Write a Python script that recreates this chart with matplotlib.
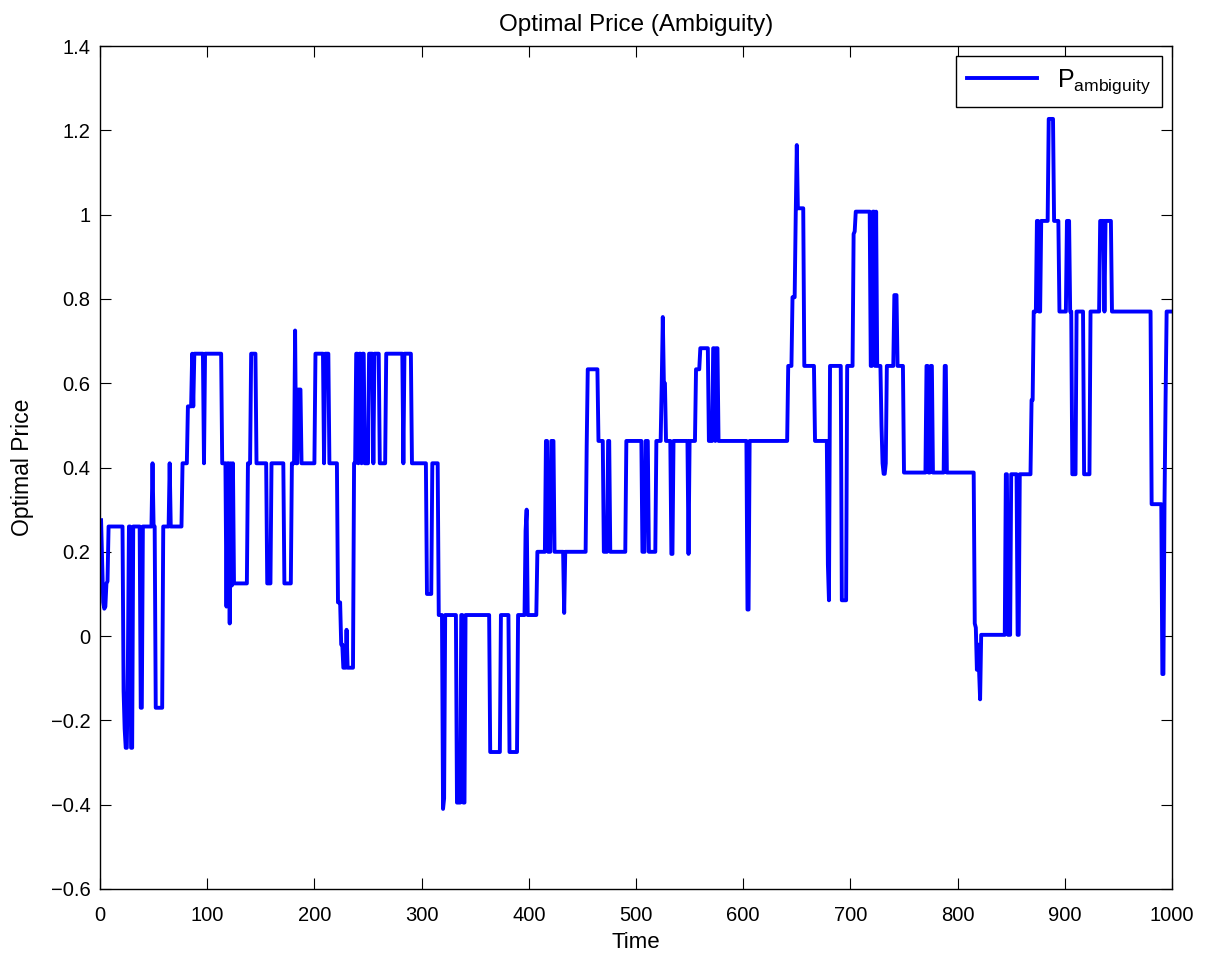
import numpy as np
import matplotlib
matplotlib.use('Agg')
import matplotlib.pyplot as plt

plt.rcParams['font.family'] = ['Liberation Sans', 'DejaVu Sans']
plt.rcParams['mathtext.fontset'] = 'custom'
plt.rcParams['mathtext.rm'] = 'Liberation Sans'

# step levels of the price path: time where each level starts, and its value
seg_start = [1, 2, 3, 4, 5, 6, 7, 8,
             22, 23, 24, 26, 27, 29, 31,
             38, 40, 49, 50, 52, 59, 65, 66,
             77, 82, 86, 87, 88, 97, 98, 114,
             118, 119, 121, 122, 123, 124, 125,
             138, 141, 146, 156, 160, 172, 179,
             182, 183, 185, 188, 201, 209, 210,
             214, 222, 225, 227, 230, 231, 237,
             239, 241, 242, 244, 245, 247, 251,
             255, 256, 261, 267, 283, 284, 291,
             305, 310, 316, 320, 321, 322, 333,
             337, 339, 341, 364, 374, 382, 390,
             397, 398, 399, 408, 416, 418, 421,
             424, 433, 434, 454, 455, 465,
             470, 474, 476, 491, 506, 509, 512,
             519, 524, 525, 526, 528, 533, 535,
             549, 550, 556, 560, 568, 572, 574,
             575, 577, 604, 606, 642, 646, 649,
             650, 651, 657, 667, 679, 680, 681,
             692, 697, 703, 704, 705, 719, 721,
             723, 724, 725, 729, 730, 731, 733,
             734, 741, 744, 750, 771, 773, 775,
             777, 788, 790, 816, 817, 818, 819,
             820, 821, 822, 845, 847, 850, 856,
             858, 869, 871, 874, 876, 878, 885,
             890, 895, 902, 905, 907, 911, 918,
             924, 933, 937, 938, 944, 981, 991,
             993, 994, 995]
seg_level = [0.275, 0.18, 0.08, 0.065, 0.07, 0.125, 0.13, 0.26,
             -0.13, -0.22, -0.265, -0.07, 0.26, -0.265, 0.26,
             -0.17, 0.26, 0.41, 0.26, -0.17, 0.26, 0.41, 0.26,
             0.41, 0.545, 0.67, 0.545, 0.67, 0.41, 0.67, 0.41,
             0.07, 0.41, 0.03, 0.41, 0.12, 0.41, 0.125,
             0.41, 0.67, 0.41, 0.125, 0.41, 0.125, 0.41,
             0.725, 0.41, 0.585, 0.41, 0.67, 0.41, 0.67,
             0.41, 0.08, -0.02, -0.075, 0.015, -0.075, 0.41,
             0.67, 0.41, 0.67, 0.41, 0.67, 0.41, 0.67,
             0.41, 0.67, 0.41, 0.67, 0.41, 0.67, 0.41,
             0.1, 0.41, 0.05, -0.41, -0.385, 0.05, -0.395,
             0.05, -0.395, 0.05, -0.275, 0.05, -0.275, 0.05,
             0.25, 0.3, 0.05, 0.2, 0.463, 0.2, 0.463,
             0.2, 0.055, 0.2, 0.45, 0.633, 0.463,
             0.2, 0.463, 0.2, 0.463, 0.2, 0.463, 0.2,
             0.463, 0.6, 0.757, 0.6, 0.463, 0.195, 0.463,
             0.195, 0.463, 0.633, 0.683, 0.463, 0.683, 0.463,
             0.683, 0.463, 0.063, 0.463, 0.641, 0.804, 1.0,
             1.165, 1.015, 0.641, 0.463, 0.17, 0.085, 0.641,
             0.085, 0.641, 0.954, 0.96, 1.007, 0.641, 1.007,
             0.641, 1.007, 0.641, 0.5, 0.41, 0.385, 0.41,
             0.641, 0.809, 0.641, 0.388, 0.641, 0.388, 0.641,
             0.388, 0.641, 0.388, 0.03, 0.02, -0.08, -0.02,
             -0.08, -0.15, 0.003, 0.384, 0.003, 0.384, 0.003,
             0.384, 0.56, 0.77, 0.985, 0.77, 0.985, 1.227,
             0.985, 0.77, 0.985, 0.77, 0.384, 0.77, 0.384,
             0.77, 0.985, 0.77, 0.985, 0.77, 0.313, -0.09,
             0.313, 0.56, 0.77]
n_steps = 1000

x_ticks = [0, 100, 200, 300, 400, 500, 600, 700, 800, 900, 1000]
y_ticks = [-0.6, -0.4, -0.2, 0, 0.2, 0.4, 0.6, 0.8, 1, 1.2, 1.4]
y_tick_labels = ['\u22120.6', '\u22120.4', '\u22120.2', '0', '0.2', '0.4',
                 '0.6', '0.8', '1', '1.2', '1.4']

# expand the held levels to one value per time step
time = np.arange(1, n_steps + 1)
lengths = np.diff(seg_start + [n_steps + 1])
price = np.repeat(seg_level, lengths)

fig = plt.figure(figsize=(12.08, 9.57), dpi=100)
ax = fig.add_axes([100 / 1208, 1 - 889 / 957, 1072 / 1208, 843 / 957])
ax.plot(time, price, color='#0000ff', linewidth=2.8, label=r'P$_{\rm ambiguity}$')

ax.set_xlim(0, 1000)
ax.set_ylim(-0.6, 1.4)
ax.set_xticks(x_ticks)
ax.set_yticks(y_ticks)
ax.set_yticklabels(y_tick_labels)
ax.tick_params(direction='in', length=8, width=0.8, top=True, right=True,
               labelsize=14.5)
ax.tick_params(axis='x', pad=12)
ax.tick_params(axis='y', pad=7)
for s in ax.spines.values():
    s.set_linewidth(1.0)

ax.set_title('Optimal Price (Ambiguity)', fontsize=17.5, pad=11)
ax.set_xlabel('Time', fontsize=16, labelpad=5)
ax.set_ylabel('Optimal Price', fontsize=16.5, labelpad=12)

leg = ax.legend(loc='upper right', fontsize=18, fancybox=False, framealpha=1,
                edgecolor='black', handlelength=2.8, borderaxespad=0.4,
                borderpad=0.45)
leg.get_frame().set_linewidth(1.0)

fig.savefig('out.png', dpi=100)
